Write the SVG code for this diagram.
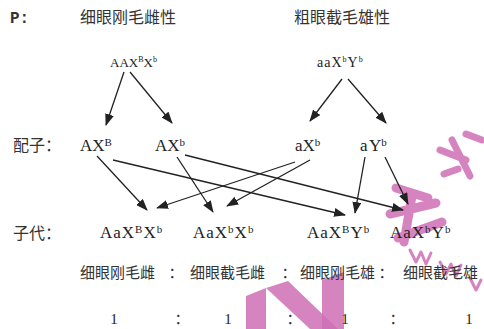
<svg xmlns="http://www.w3.org/2000/svg" width="484" height="329" viewBox="0 0 484 329">
<defs>
<marker id="ah" markerUnits="userSpaceOnUse" markerWidth="12" markerHeight="9" refX="11" refY="4.5" orient="auto">
<path d="M0,0 L12,4.5 L0,9 Z" fill="#222"/>
</marker>
<style>
.cjk{font-family:"Noto Sans CJK SC","Noto Sans",sans-serif;fill:#333;font-size:15px}
.big{font-size:16px}
.g{font-family:"Liberation Serif",serif;fill:#222;font-size:17px}
.gs{font-family:"Liberation Serif",serif;fill:#222;font-size:13px}
.sup{font-size:11px}
.sups{font-size:8px}
.num{font-family:"Liberation Serif",serif;fill:#222;font-size:15px;text-anchor:middle}
.cl{font-family:"Noto Sans CJK SC",sans-serif;fill:#333;font-size:15px;text-anchor:middle}
.arr{stroke:#222;stroke-width:1.3;fill:none;marker-end:url(#ah)}
.wm{fill:#cf6fb5;opacity:0.85}
.wms{stroke:#cf6fb5;opacity:0.85;fill:none;stroke-linecap:round;stroke-linejoin:round}
</style>
</defs>
<rect width="484" height="329" fill="#fff"/>

<g id="watermark">
<path class="wm" d="M246,296 L266,288 L266,329 L246,329 Z"/>
<path class="wm" d="M266,288 L288,281 L338,329 L310,329 Z"/>
<path class="wm" d="M322,280 L344,272 L344,329 L322,329 Z"/>
<path class="wms" stroke-width="9" d="M396,188 L428,198 M390,214 L436,203 M398,238 L442,222 M412,196 L404,242"/>
<path class="wms" stroke-width="7" d="M440,150 L466,160 M452,140 L470,176 M466,134 L482,140 M444,174 L458,169"/>
<path class="wms" stroke-width="3" d="M410,250 L416,262 L421,252 L426,264 L431,253 M440,262 L446,274 L451,264 L456,276 L461,265 M470,278 L476,290 L481,280"/>
</g>

<g id="labels">
<text x="10" y="23" style="font-family:'Liberation Mono',monospace;font-weight:bold;font-size:16px;fill:#333">P:</text>
<text class="cjk big" x="80" y="23">细眼刚毛雌性</text>
<text class="cjk big" x="294" y="23">粗眼截毛雄性</text>
<text class="cjk big" x="13" y="151">配子：</text>
<text class="cjk big" x="13" y="239">子代：</text>
</g>

<g id="parent-female">
<text class="gs" x="110" y="67">AAX<tspan class="sups" dy="-5">B</tspan><tspan dy="5">X</tspan><tspan class="sups" dy="-5">b</tspan></text>
</g>
<g id="parent-male">
<text class="gs" x="317" y="67" style="font-size:14px;letter-spacing:1px">aaX<tspan class="sups" dy="-5">b</tspan><tspan dy="5">Y</tspan><tspan class="sups" dy="-5">b</tspan></text>
</g>

<g id="gamete-AXB">
<text class="g" x="80" y="151">AX<tspan class="sup" dy="-5">B</tspan></text>
</g>
<g id="gamete-AXb">
<text class="g" x="155" y="151">AX<tspan class="sup" dy="-5">b</tspan></text>
</g>
<g id="gamete-aXb">
<text class="g" x="295" y="151">aX<tspan class="sup" dy="-5">b</tspan></text>
</g>
<g id="gamete-aYb">
<text class="g" y="151"><tspan x="360">a</tspan><tspan x="369">Y</tspan><tspan class="sup" dy="-5">b</tspan></text>
</g>

<g id="offspring-1">
<text class="g" x="100" y="238" style="letter-spacing:1px">AaX<tspan class="sup" dy="-5">B</tspan><tspan dy="5">X</tspan><tspan class="sup" dy="-5">b</tspan></text>
</g>
<g id="offspring-2">
<text class="g" x="193" y="238" style="letter-spacing:1px">AaX<tspan class="sup" dy="-5">b</tspan><tspan dy="5">X</tspan><tspan class="sup" dy="-5">b</tspan></text>
</g>
<g id="offspring-3">
<text class="g" x="307" y="238" style="letter-spacing:1px">AaX<tspan class="sup" dy="-5">B</tspan><tspan dy="5">Y</tspan><tspan class="sup" dy="-5">b</tspan></text>
</g>
<g id="offspring-4">
<text class="g" x="390" y="238" style="letter-spacing:1px">AaX<tspan class="sup" dy="-5">b</tspan><tspan dy="5">Y</tspan><tspan class="sup" dy="-5">b</tspan></text>
</g>

<g id="phenotypes">
<text class="cjk" x="80" y="278">细眼刚毛雌</text>
<text class="cl" x="176" y="278">：</text>
<text class="cjk" x="190" y="278">细眼截毛雌</text>
<text class="cl" x="289" y="278">：</text>
<text class="cjk" x="300" y="278">细眼刚毛雄</text>
<text class="cl" x="386" y="278">：</text>
<text class="cjk" x="403" y="278">细眼截毛雄</text>
</g>

<g id="ratio">
<text class="num" x="114" y="324">1</text>
<text class="cl" x="182" y="324">：</text>
<text class="num" x="228" y="324">1</text>
<text class="cl" x="294" y="324">：</text>
<text class="num" x="345" y="324">1</text>
<text class="cl" x="397" y="324">：</text>
<text class="num" x="469" y="324">1</text>
</g>

<g id="connectors">
<line class="arr" x1="124" y1="72" x2="106" y2="125"/>
<line class="arr" x1="130" y1="72" x2="172" y2="123"/>
<line class="arr" x1="342" y1="79" x2="310" y2="121"/>
<line class="arr" x1="348" y1="79" x2="386" y2="123"/>
<line class="arr" x1="97" y1="156" x2="147" y2="210"/>
<line class="arr" x1="113" y1="160" x2="345" y2="215"/>
<line class="arr" x1="177" y1="157" x2="213" y2="212"/>
<line class="arr" x1="185" y1="155" x2="403" y2="210"/>
<line class="arr" x1="295" y1="162" x2="157" y2="208"/>
<line class="arr" x1="310" y1="160" x2="227" y2="206"/>
<line class="arr" x1="365" y1="157" x2="355" y2="213"/>
<line class="arr" x1="385" y1="157" x2="408" y2="204"/>
</g>
</svg>
